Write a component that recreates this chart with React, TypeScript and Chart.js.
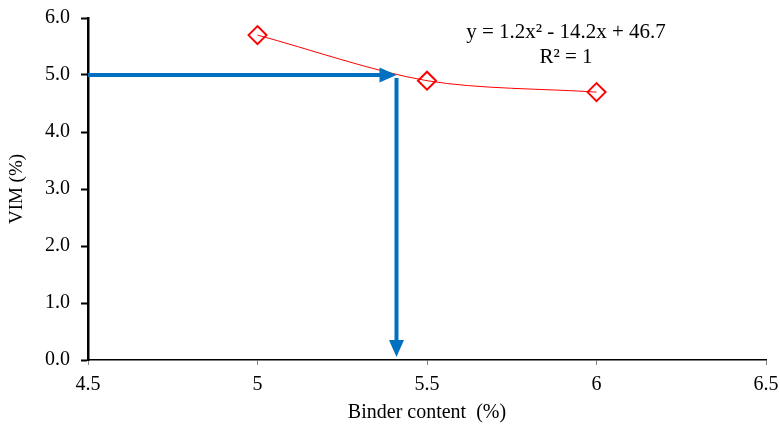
import React, { useEffect, useRef } from 'react';
import { Chart, registerables } from 'chart.js';

Chart.register(...registerables);

// ---- data ----
const binderContent = [5.0, 5.5, 6.0];
const vimValues = [5.7, 4.9, 4.7];
const xRange = [4.5, 6.5];
const yRange = [0, 6];
const xStep = 0.5;
const yStep = 1;
const targetVim = 5.0;
const optimumBinder = 5.41;
const equationLines = ['y = 1.2x\u00B2 - 14.2x + 46.7', 'R\u00B2 = 1'];
const xTitle = 'Binder content  (%)';
const yTitle = 'VIM (%)';

const FONT = "'Liberation Serif', 'Times New Roman', serif";
const BLUE = '#0070C0';
const RED = '#FF0000';

const overlayPlugin = {
  id: 'overlay',
  afterDatasetsDraw(chart: any) {
    const { ctx, scales } = chart;
    const xs = scales.x;
    const ys = scales.y;
    const y5 = ys.getPixelForValue(targetVim);
    const xOpt = xs.getPixelForValue(optimumBinder);
    const xStart = xs.getPixelForValue(xRange[0]);
    const yZero = ys.getPixelForValue(yRange[0]);
    const headL = 17;
    const headW = 7.5;
    ctx.save();
    ctx.strokeStyle = BLUE;
    ctx.fillStyle = BLUE;
    ctx.lineWidth = 4;
    // horizontal arrow
    ctx.beginPath();
    ctx.moveTo(xStart, y5);
    ctx.lineTo(xOpt - headL + 1, y5);
    ctx.stroke();
    ctx.beginPath();
    ctx.moveTo(xOpt, y5);
    ctx.lineTo(xOpt - headL, y5 - headW);
    ctx.lineTo(xOpt - headL, y5 + headW);
    ctx.closePath();
    ctx.fill();
    // vertical arrow
    const tip = yZero - 3;
    ctx.beginPath();
    ctx.moveTo(xOpt, y5 + 3);
    ctx.lineTo(xOpt, tip - headL + 1);
    ctx.stroke();
    ctx.beginPath();
    ctx.moveTo(xOpt, tip);
    ctx.lineTo(xOpt - headW, tip - headL);
    ctx.lineTo(xOpt + headW, tip - headL);
    ctx.closePath();
    ctx.fill();
    // equation
    ctx.fillStyle = '#000';
    ctx.font = `21px ${FONT}`;
    ctx.textAlign = 'center';
    ctx.textBaseline = 'middle';
    const ex = xs.getPixelForValue(5.91);
    const ey = ys.getPixelForValue(5.75);
    equationLines.forEach((t, i) => ctx.fillText(t, ex, ey + i * 25));
    ctx.restore();
  },
};

export default function App() {
  const ref = useRef<HTMLCanvasElement>(null);
  useEffect(() => {
    const canvas = ref.current!;
    const chart = new Chart(canvas, {
      type: 'scatter',
      data: {
        datasets: [
          {
            label: 'trend',
            data: binderContent.map((x, i) => ({ x, y: vimValues[i] })),
            showLine: true,
            borderColor: RED,
            borderWidth: 1,
            tension: 0.3,
            pointRadius: 0,
            fill: false,
          } as any,
          {
            label: 'VIM',
            data: binderContent.map((x, i) => ({ x, y: vimValues[i] })),
            showLine: false,
            pointStyle: 'rectRot',
            pointRadius: 9,
            pointBorderWidth: 2,
            pointBorderColor: RED,
            pointBackgroundColor: 'rgba(255,255,255,0)',
          } as any,
        ],
      },
      options: {
        responsive: false,
        animation: false,
        devicePixelRatio: 1,
        layout: { padding: { left: 0, right: 14, top: 18, bottom: 0 } },
        plugins: { legend: { display: false }, tooltip: { enabled: false } },
        scales: {
          x: {
            type: 'linear',
            min: xRange[0],
            max: xRange[1],
            afterFit: (s: any) => { s.height = 65; s.paddingLeft = 0; s.paddingRight = 0; },
            ticks: { stepSize: xStep, color: '#000', font: { family: FONT, size: 20 }, padding: 8, callback: (v: any) => String(Number(v)) },
            grid: { drawOnChartArea: false, drawTicks: true, tickLength: 5, color: '#888', tickWidth: 1 },
            border: { display: true, color: '#000', width: 1.5 },
            title: { display: true, text: xTitle, color: '#000', font: { family: FONT, size: 20 }, padding: { top: 3, bottom: 0 } },
          },
          y: {
            type: 'linear',
            min: yRange[0],
            max: yRange[1],
            afterFit: (s: any) => { s.width = 88; s.paddingTop = 0; s.paddingBottom = 0; },
            ticks: { stepSize: yStep, color: '#000', font: { family: FONT, size: 20 }, padding: 11, callback: (v: any) => Number(v).toFixed(1) },
            grid: { drawOnChartArea: false, drawTicks: true, tickLength: 7, color: '#000', tickWidth: 2 },
            border: { display: true, color: '#000', width: 2.5 },
            title: { display: true, text: yTitle, color: '#000', font: { family: FONT, size: 19 }, padding: { top: 6, bottom: 0 } },
          },
        },
      },
      plugins: [overlayPlugin],
    } as any);
    return () => chart.destroy();
  }, []);
  return (
    <div style={{ position: 'fixed', left: 0, top: 0, width: 780, height: 425, background: '#fff' }}>
      <canvas ref={ref} width={780} height={425} />
    </div>
  );
}
